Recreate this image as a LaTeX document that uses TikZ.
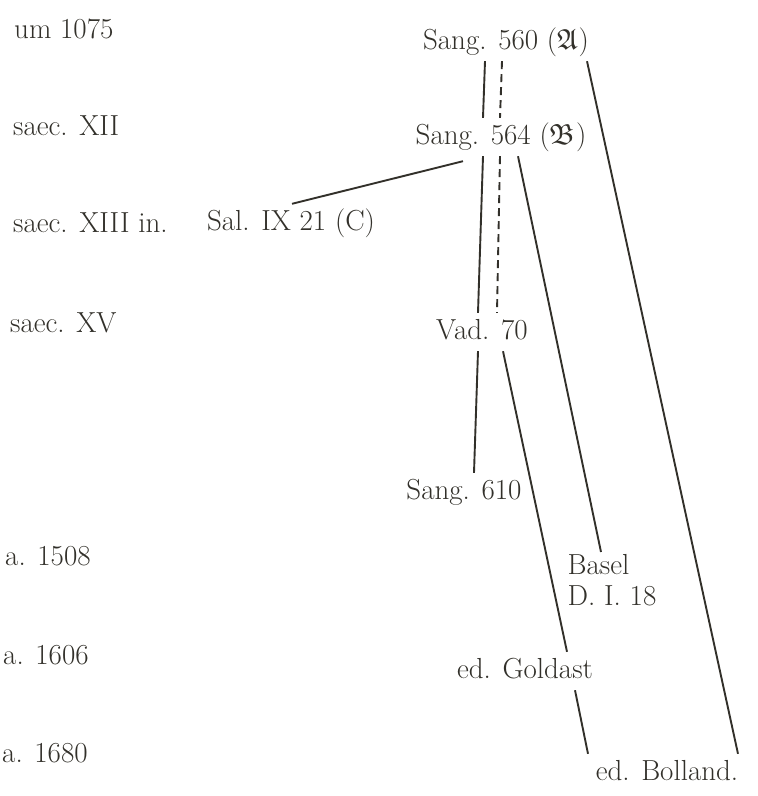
\documentclass[tikz,border=0pt]{standalone}
\usepackage{unicode-math}
\usepackage{tikz}
\definecolor{ink}{RGB}{50,48,42}

\begin{document}
\begin{tikzpicture}[x=1pt,y=-1pt,
    every node/.style={text=ink,font=\fontsize{29}{31}\selectfont},
    era/.style={anchor=west,inner sep=0pt},
    ms/.style={text height=21pt,text depth=7pt,inner xsep=2pt,inner ysep=5pt},
    stem/.style={draw=ink,line width=1.9pt},
    stemdash/.style={stem,dash pattern=on 8pt off 5pt}]
    \useasboundingbox (0,0) rectangle (758,796);
    % dates
    \node[era] (um1075) at (14,29) {um 1075};
    \node[era] (saec12) at (13,126) {saec. XII};
    \node[era] (saec13) at (13,223) {saec. XIII in.};
    \node[era] (saec15) at (10,323) {saec. XV};
    \node[era] (a1508) at (5,556) {a. 1508};
    \node[era] (a1606) at (3,655) {a. 1606};
    \node[era] (a1680) at (2,753) {a. 1680};
    % manuscripts and editions
    \node[ms] (s560) at (506,42) {Sang. 560 ($\mathfrak{A}$)};
    \node[ms] (s564) at (501,137) {Sang. 564 ($\mathfrak{B}$)};
    \node[ms] (sal) at (291,223) {Sal. IX 21 (C)};
    \node[ms] (vad) at (482,332) {Vad. 70};
    \node[ms] (s610) at (464,492) {Sang. 610};
    \node[anchor=north,align=left,inner sep=2pt] (basel) at (612,552) {Basel\\D. I. 18};
    \node[ms] (goldast) at (525,671) {ed. Goldast};
    \node[ms] (bolland) at (667,773) {ed. Bolland.};
    % stemma
    \draw[stem] ([xshift=-21pt]s560.south) -- ([xshift=-18pt]s564.north);
    \draw[stemdash] ([xshift=-4pt]s560.south) -- ([xshift=-1pt]s564.north);
    \draw[stem] ([xshift=81pt]s560.south) -- ([xshift=71pt]bolland.north);
    \draw[stem] ([xshift=-38pt,yshift=-5pt]s564.south) -- ([xshift=1pt]sal.north);
    \draw[stem] ([xshift=-18pt]s564.south) -- ([xshift=-4pt]vad.north);
    \draw[stemdash] ([xshift=-1pt]s564.south) -- ([xshift=15pt]vad.north);
    \draw[stem] ([xshift=17pt]s564.south) -- ([xshift=-11pt]basel.north);
    \draw[stem] ([xshift=-4pt]vad.south) -- ([xshift=10pt]s610.north);
    \draw[stem] ([xshift=21pt]vad.south) -- ([xshift=42pt]goldast.north);
    \draw[stem] ([xshift=50pt]goldast.south) -- ([xshift=-79pt]bolland.north);
\end{tikzpicture}
\end{document}
